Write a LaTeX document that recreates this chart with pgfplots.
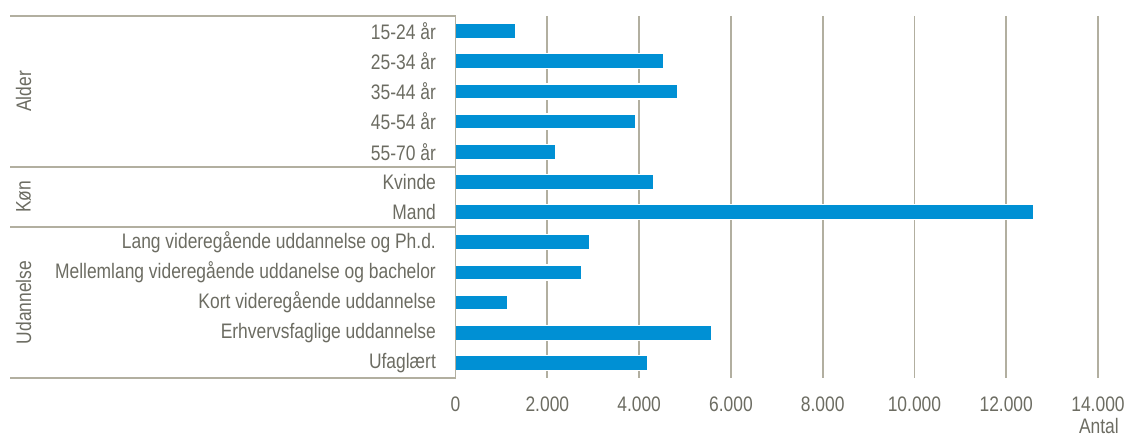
\documentclass[border=0pt]{standalone}
\usepackage{fontspec}
\setmainfont{Liberation Sans}[FakeStretch=0.83]
\usepackage{pgfplots}
\pgfplotsset{compat=1.18}
\definecolor{barblue}{RGB}{0,144,212}
\definecolor{gridgray}{RGB}{178,175,160}
\definecolor{txtgray}{RGB}{108,108,98}
\begin{document}
\begin{tikzpicture}
\begin{axis}[
  name=ax,
  scale only axis,
  width=642.4pt, height=362pt,
  xbar, bar width=15pt,
  xmin=0, xmax=14000,
  ymin=-0.5, ymax=11.5, y dir=reverse,
  ytick={0,1,2,3,4,5,6,7,8,9,10,11},
  yticklabels={15-24 år,25-34 år,35-44 år,45-54 år,55-70 år,Kvinde,Mand,Lang videregående uddannelse og Ph.d.,Mellemlang videregående uddanelse og bachelor,Kort videregående uddannelse,Erhvervsfaglige uddannelse,Ufaglært},
  xtick={0,2000,4000,6000,8000,10000,12000,14000},
  xticklabels={0,2.000,4.000,6.000,8.000,10.000,12.000,14.000},
  scaled x ticks=false,
  xmajorgrids, grid style={gridgray, line width=1.8pt},
  major tick length=0pt,
  axis line style={draw=none},
  tick label style={font=\fontsize{21}{24}\selectfont, text=txtgray},
  yticklabel style={anchor=east, inner sep=0pt, xshift=-19.5pt},
  xticklabel style={anchor=north, inner sep=0pt, yshift=-19pt},
  clip=false,
]
\addplot[fill=barblue, draw=white, line width=1.2pt] coordinates {
  (1316,0) (4541,1) (4846,2) (3931,3) (2188,4)
  (4323,5) (12589,6)
  (2929,7) (2754,8) (1142,9) (5580,10) (4186,11)
};
\draw[gridgray, line width=1.8pt] (axis cs:0,-0.5) -- (axis cs:0,11.5);
\draw[gridgray, line width=1.8pt] (axis cs:0,-0.5) -- ([xshift=-445.6pt]axis cs:0,-0.5);
\draw[gridgray, line width=1.8pt] (axis cs:0,4.5) -- ([xshift=-445.6pt]axis cs:0,4.5);
\draw[gridgray, line width=1.8pt] (axis cs:0,6.5) -- ([xshift=-445.6pt]axis cs:0,6.5);
\draw[gridgray, line width=1.8pt] (axis cs:0,11.5) -- ([xshift=-445.6pt]axis cs:0,11.5);
\node[rotate=90, text=txtgray, font=\fontsize{21}{24}\selectfont] at ([xshift=-432pt]axis cs:0,2) {Alder};
\node[rotate=90, text=txtgray, font=\fontsize{21}{24}\selectfont] at ([xshift=-432pt]axis cs:0,5.5) {Køn};
\node[rotate=90, text=txtgray, font=\fontsize{21}{24}\selectfont] at ([xshift=-432pt]axis cs:0,9) {Udannelse};
\node[anchor=base east, inner sep=0pt, text=txtgray, font=\fontsize{21}{24}\selectfont] at ([xshift=21pt,yshift=-55pt]axis cs:14000,11.5) {Antal};
\end{axis}
\path (ax.south west) ++(-455.6pt,-63pt) coordinate (bl);
\path (ax.north east) ++(29pt,16pt) coordinate (tr);
\pgfresetboundingbox
\path[use as bounding box] (bl) rectangle (tr);
\end{tikzpicture}
\end{document}
